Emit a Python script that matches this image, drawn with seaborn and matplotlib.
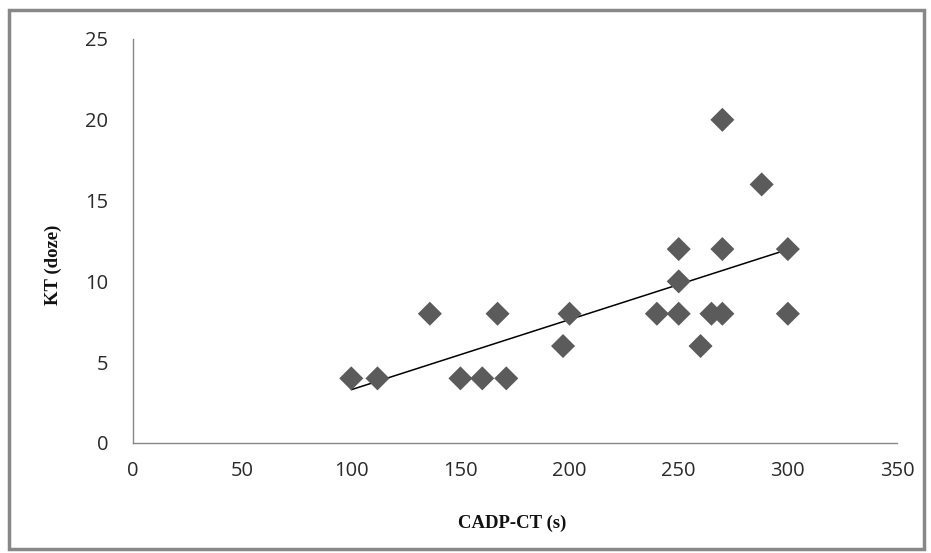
import matplotlib
matplotlib.use("Agg")
import matplotlib.pyplot as plt
import seaborn as sns
import pandas as pd
from matplotlib.patches import Rectangle

cadp_ct = [100, 112, 136, 150, 160, 167, 171, 197, 200, 240, 250, 250, 250, 260, 265, 270, 270, 270, 288, 300, 300]
kt_doze = [4, 4, 8, 4, 4, 8, 4, 6, 8, 8, 12, 10, 8, 6, 8, 20, 12, 8, 16, 12, 8]
x_ticks = [0, 50, 100, 150, 200, 250, 300, 350]
y_ticks = [0, 5, 10, 15, 20, 25]

df = pd.DataFrame({"CADP-CT (s)": cadp_ct, "KT (doze)": kt_doze})

sns.set_style("white")
plt.rcParams['font.family'] = ['Open Sans', 'DejaVu Sans']

fig = plt.figure(figsize=(9.31, 5.53), dpi=100)
ax = fig.add_axes([133/931, 1 - 443/553, (897-133)/931, (443-39)/553])

sns.scatterplot(data=df, x="CADP-CT (s)", y="KT (doze)", marker="D", s=150,
                color="#5b5b5b", edgecolor="none", ax=ax, zorder=3)
sns.regplot(data=df, x="CADP-CT (s)", y="KT (doze)", scatter=False, ci=None,
            truncate=True, line_kws={"color": "black", "lw": 1.1}, ax=ax)

ax.set_xlim(0, 350)
ax.set_ylim(0, 25)
ax.set_xticks(x_ticks)
ax.set_yticks(y_ticks)
ax.tick_params(axis="both", labelsize=14.5, colors="#2a2a2a", length=7, width=1,
               direction="out", color="#888888")
ax.tick_params(axis="y", pad=11)
ax.tick_params(axis="x", pad=6)
for side in ["top", "right"]:
    ax.spines[side].set_visible(False)
for side in ["left", "bottom"]:
    ax.spines[side].set_color("#888888")
    ax.spines[side].set_linewidth(1)

ax.set_xlabel("")
ax.set_ylabel("")
fig.text(512/931, 1 - 523/553, "CADP-CT (s)", family="Liberation Serif",
         fontweight="bold", fontsize=13.5, ha="center", va="center", color="#111111")
fig.text(53/931, 1 - 265/553, "KT (doze)", family="Liberation Serif",
         fontweight="bold", fontsize=13.5, ha="center", va="center",
         rotation=90, color="#111111")

fig.patches.append(Rectangle((9/931, 4/553), (924-9)/931, (543-4)/553,
                             transform=fig.transFigure, fill=False,
                             edgecolor="#888888", lw=2.5))

fig.savefig("out.png", dpi=100)
